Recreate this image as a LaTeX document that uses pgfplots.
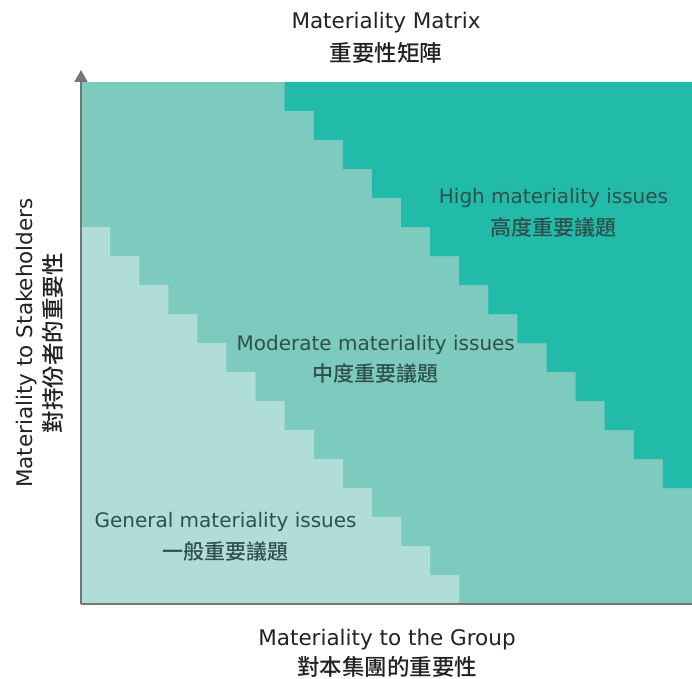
\documentclass[border=0pt]{standalone}
\usepackage{pgfplots}
\pgfplotsset{compat=1.18}
\usepackage{fontspec}
\setmainfont{DejaVu Sans}
\newfontfamily\cjk[UprightFont=* Medium]{Noto Sans CJK TC}
\usetikzlibrary{arrows.meta}
\definecolor{lowc}{HTML}{B1DDD8}
\definecolor{midc}{HTML}{7DCBBE}
\definecolor{highc}{HTML}{22BAA8}
\definecolor{inner}{HTML}{2F504D}
\definecolor{outer}{HTML}{222222}
\definecolor{axgray}{HTML}{767676}
\begin{document}
\begin{tikzpicture}
\path[use as bounding box] (-81pt,-74pt) rectangle (611pt,604pt);
\begin{axis}[
  anchor=origin, at={(0pt,0pt)},
  scale only axis, width=611pt, height=522pt,
  xmin=0, xmax=21, ymin=0, ymax=18,
  axis line style={draw=none},
  ticks=none,
  clip=false,
]
% moderate (background)
\addplot[fill=midc, draw=none] coordinates {(0,0) (21,0) (21,18) (0,18)} -- cycle;
% general (light)
\addplot[fill=lowc, draw=none] coordinates {
 (0,0) (13,0) (13,1) (12,1) (12,2) (11,2) (11,3) (10,3) (10,4) (9,4) (9,5)
 (8,5) (8,6) (7,6) (7,7) (6,7) (6,8) (5,8) (5,9) (4,9) (4,10) (3,10) (3,11)
 (2,11) (2,12) (1,12) (1,13) (0,13)} -- cycle;
% high
\addplot[fill=highc, draw=none] coordinates {
 (21,4) (20,4) (20,5) (19,5) (19,6) (18,6) (18,7) (17,7) (17,8) (16,8) (16,9)
 (15,9) (15,10) (14,10) (14,11) (13,11) (13,12) (12,12) (12,13) (11,13) (11,14)
 (10,14) (10,15) (9,15) (9,16) (8,16) (8,17) (7,17) (7,18) (21,18)} -- cycle;
% axis lines
\draw[axgray, line width=2pt] (axis cs:21,0) -- (axis cs:0,0);
\draw[axgray, line width=2pt, -{Triangle[length=12pt,width=13pt]}] (axis cs:0,0) -- ([yshift=12pt]axis cs:0,18);
% inner labels
\node[anchor=base, text=inner, font=\fontsize{20}{24}\selectfont] at (axis cs:16.24,13.82) {High materiality issues};
\node[anchor=base, text=inner, font=\fontsize{21}{24}\selectfont\cjk] at (axis cs:16.24,12.72) {高度重要議題};
\node[anchor=base, text=inner, font=\fontsize{20}{24}\selectfont] at (axis cs:10.13,8.73) {Moderate materiality issues};
\node[anchor=base, text=inner, font=\fontsize{21}{24}\selectfont\cjk] at (axis cs:10.13,7.66) {中度重要議題};
\node[anchor=base, text=inner, font=\fontsize{20}{24}\selectfont] at (axis cs:4.97,2.63) {General materiality issues};
\node[anchor=base, text=inner, font=\fontsize{21}{24}\selectfont\cjk] at (axis cs:4.97,1.52) {一般重要議題};
\end{axis}
% title
\node[anchor=base, text=outer, font=\fontsize{21.5}{24}\selectfont] at (305pt,575.7pt) {Materiality Matrix};
\node[anchor=base, text=outer, font=\fontsize{22.5}{24}\selectfont\cjk] at (305pt,542.5pt) {重要性矩陣};
% x label
\node[anchor=base, text=outer, font=\fontsize{21.5}{24}\selectfont] at (306pt,-41pt) {Materiality to the Group};
\node[anchor=base, text=outer, font=\fontsize{22.5}{24}\selectfont\cjk] at (306pt,-71pt) {對本集團的重要性};
% y label
\node[anchor=base, rotate=90, text=outer, font=\fontsize{21.5}{24}\selectfont] at (-48pt,261pt) {Materiality to Stakeholders};
\node[anchor=base, rotate=90, text=outer, font=\fontsize{22.5}{24}\selectfont\cjk] at (-19.5pt,261pt) {對持份者的重要性};
\end{tikzpicture}
\end{document}
